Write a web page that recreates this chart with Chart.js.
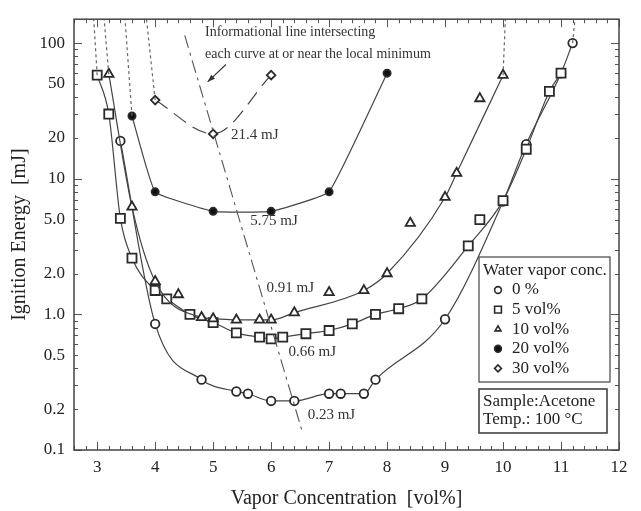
<!DOCTYPE html>
<html>
<head>
<meta charset="utf-8">
<script src="https://cdn.jsdelivr.net/npm/chart.js@4.4.1/dist/chart.umd.min.js"></script>
<style>
  html, body { margin: 0; padding: 0; background: #fff; }
  #wrap { width: 641px; height: 511px; }
</style>
</head>
<body>
<div id="wrap"><canvas id="chart" width="641" height="511"></canvas></div>
<script>
// axis ticks
const xTicks = [3, 4, 5, 6, 7, 8, 9, 10, 11, 12];
const yTicks = [0.1, 0.2, 0.5, 1, 2, 5, 10, 20, 50, 100];
const yTickLabels = ["0.1", "0.2", "0.5", "1.0", "2.0", "5.0", "10", "20", "50", "100"];

const seriesNames = ["0 %", "5 vol%", "10 vol%", "20 vol%", "30 vol%"];

// 0 % water vapor (circles)
const conc0 = [3.4, 4.0, 4.8, 5.4, 5.6, 6.0, 6.4, 7.0, 7.2, 7.6, 7.8, 9.0, 10.0, 10.4, 11.0, 11.2];
const energy0 = [19, 0.85, 0.33, 0.27, 0.26, 0.23, 0.23, 0.26, 0.26, 0.26, 0.33, 0.92, 6.8, 18, 60, 100];

// 5 vol% (squares)
const conc5 = [3.0, 3.2, 3.4, 3.6, 4.0, 4.2, 4.6, 5.0, 5.4, 5.8, 6.0, 6.2, 6.6, 7.0, 7.4, 7.8, 8.2, 8.6, 9.4, 10.0, 10.4, 10.8, 11.0];
const energy5 = [58, 30, 5.1, 2.6, 1.5, 1.3, 1.0, 0.87, 0.73, 0.68, 0.66, 0.68, 0.72, 0.76, 0.85, 1.0, 1.1, 1.3, 3.2, 6.9, 16.5, 44, 60];
const conc5Off = [9.6];
const energy5Off = [5.0];

// 10 vol% (triangles)
const conc10 = [3.2, 3.6, 4.0, 4.8, 5.0, 5.4, 5.8, 6.0, 6.4, 7.6, 8.0, 9.0, 9.2, 10.0];
const energy10 = [59, 6.2, 1.75, 0.95, 0.93, 0.91, 0.91, 0.91, 1.03, 1.5, 2.0, 7.3, 11, 58];
const conc10Off = [4.4, 7.0, 8.4, 9.6];
const energy10Off = [1.4, 1.45, 4.7, 39];

// 20 vol% (filled circles)
const conc20 = [3.6, 4.0, 5.0, 6.0, 7.0, 8.0];
const energy20 = [29, 8, 5.75, 5.75, 8, 60];

// 30 vol% (diamonds)
const conc30 = [4.0, 5.0, 6.0];
const energy30 = [38, 21.4, 58];

// dotted flammability limit extensions: [x at curve end, x at top], [y, y]
const limitX = [[3.0, 2.94], [3.2, 3.12], [3.6, 3.48], [4.0, 3.85], [10.0, 10.04], [11.2, 11.24]];
const limitY = [[58, 150], [59, 150], [29, 150], [38, 150], [58, 150], [100, 150]];

// informational line through the minima
const infoX = [4.51, 6.54];
const infoY = [114, 0.135];

const minLabels = ["21.4 mJ", "5.75 mJ", "0.91 mJ", "0.66 mJ", "0.23 mJ"];
const minLabelX = [5.31, 5.64, 5.92, 6.30, 6.63];
const minLabelY = [21, 4.9, 1.55, 0.53, 0.18];

const pts = (xs, ys) => xs.map((x, i) => ({ x: x, y: ys[i] }));

const INK = "#2a2a2a";
const LINE = "#444";
const SERIF = '"Liberation Serif", "DejaVu Serif", serif';

Chart.defaults.font.family = SERIF;
Chart.defaults.color = "#222";

const styles = [
  { pointStyle: "circle", radius: 4.3, fill: "#fff" },
  { pointStyle: "rect", radius: 6.4, fill: "#fff" },
  { pointStyle: "triangle", radius: 5.4, fill: "#fff" },
  { pointStyle: "circle", radius: 3.6, fill: "#111" },
  { pointStyle: "rectRot", radius: 4.3, fill: "#fff" },
];

function curve(data, st, extra) {
  return Object.assign({
    data: data,
    showLine: true,
    borderColor: LINE,
    borderWidth: 1.2,
    cubicInterpolationMode: "monotone",
    pointStyle: st.pointStyle,
    pointRadius: st.radius,
    pointBackgroundColor: st.fill,
    pointBorderColor: INK,
    pointBorderWidth: 1.8,
    pointHoverRadius: st.radius,
  }, extra || {});
}

function markersOnly(data, st) {
  return curve(data, st, { showLine: false });
}

const datasets = [];
limitX.forEach((xs, i) => {
  datasets.push({
    data: pts(xs, limitY[i]),
    showLine: true,
    borderColor: "#666",
    borderWidth: 1.2,
    borderDash: [3, 3],
    pointRadius: 0,
  });
});
datasets.push({
  data: pts(infoX, infoY),
  showLine: true,
  borderColor: "#555",
  borderWidth: 1.1,
  borderDash: [13, 5, 3, 5],
  pointRadius: 0,
});
datasets.push(curve(pts(conc30, energy30), styles[4], { borderDash: [15, 8] }));
datasets.push(curve(pts(conc20, energy20), styles[3], { cubicInterpolationMode: "default", tension: 0.1 }));
datasets.push(curve(pts(conc10, energy10), styles[2]));
datasets.push(markersOnly(pts(conc10Off, energy10Off), styles[2]));
datasets.push(curve(pts(conc5, energy5), styles[1]));
datasets.push(markersOnly(pts(conc5Off, energy5Off), styles[1]));
datasets.push(curve(pts(conc0, energy0), styles[0]));

// frame, inward ticks, annotations and legend
const decorPlugin = {
  id: "decor",
  afterDatasetsDraw(chart) {
    const ctx = chart.ctx;
    const a = chart.chartArea;
    const xs = chart.scales.x;
    const ys = chart.scales.y;
    ctx.save();

    // ticks on all four sides
    ctx.strokeStyle = "#555";
    ctx.lineWidth = 1;
    ctx.beginPath();
    for (let v = 2.6; v <= 12.001; v += 0.2) {
      const major = Math.abs(v - Math.round(v)) < 0.01;
      const len = major ? 8 : 4;
      const px = Math.round(xs.getPixelForValue(v)) + 0.5;
      ctx.moveTo(px, a.bottom); ctx.lineTo(px, a.bottom - len);
      ctx.moveTo(px, a.top); ctx.lineTo(px, a.top + len);
    }
    [0.1, 1, 10, 100].forEach((d) => {
      for (let m = 1; m <= 9; m++) {
        const v = m * d;
        if (v > 150) break;
        const len = m === 1 ? 8 : 4;
        const py = Math.round(ys.getPixelForValue(v)) + 0.5;
        ctx.moveTo(a.left, py); ctx.lineTo(a.left + len, py);
        ctx.moveTo(a.right, py); ctx.lineTo(a.right - len, py);
      }
    });
    ctx.stroke();

    // frame
    ctx.strokeStyle = "#444";
    ctx.lineWidth = 1.5;
    ctx.strokeRect(a.left, a.top, a.right - a.left, a.bottom - a.top);

    // annotation text
    ctx.fillStyle = "#333";
    ctx.font = "14px " + SERIF;
    ctx.textBaseline = "middle";
    ctx.textAlign = "left";
    ctx.fillText("Informational line intersecting", xs.getPixelForValue(4.86), ys.getPixelForValue(120));
    ctx.fillText("each curve at or near the local minimum", xs.getPixelForValue(4.86), ys.getPixelForValue(82));
    ctx.font = "15px " + SERIF;
    minLabels.forEach((t, i) => {
      ctx.fillText(t, xs.getPixelForValue(minLabelX[i]), ys.getPixelForValue(minLabelY[i]));
    });

    // arrow
    const x1 = xs.getPixelForValue(5.22), y1 = ys.getPixelForValue(69.5);
    const x2 = xs.getPixelForValue(4.905), y2 = ys.getPixelForValue(51.8);
    ctx.strokeStyle = "#333";
    ctx.lineWidth = 1.1;
    ctx.beginPath();
    ctx.moveTo(x1, y1);
    ctx.lineTo(x2, y2);
    ctx.stroke();
    const ang = Math.atan2(y2 - y1, x2 - x1);
    ctx.beginPath();
    ctx.moveTo(x2, y2);
    ctx.lineTo(x2 - 8 * Math.cos(ang - 0.35), y2 - 8 * Math.sin(ang - 0.35));
    ctx.lineTo(x2 - 8 * Math.cos(ang + 0.35), y2 - 8 * Math.sin(ang + 0.35));
    ctx.closePath();
    ctx.fillStyle = "#333";
    ctx.fill();

    // legend box
    const lx = a.right - 140, ly = 257, lw = 131, lh = 125;
    ctx.fillStyle = "#fff";
    ctx.fillRect(lx, ly, lw, lh);
    ctx.strokeStyle = "#444";
    ctx.lineWidth = 1.2;
    ctx.strokeRect(lx, ly, lw, lh);
    ctx.fillStyle = "#222";
    ctx.font = "17px " + SERIF;
    ctx.fillText("Water vapor conc.", lx + 4, ly + 14);
    seriesNames.forEach((name, i) => {
      const cy = ly + 33 + i * 19.6;
      const st = styles[i];
      ctx.fillStyle = st.fill;
      ctx.strokeStyle = INK;
      ctx.lineWidth = 1.6;
      Chart.helpers.drawPoint(ctx, {
        pointStyle: st.pointStyle,
        radius: st.pointStyle === "rect" ? 4.8 : 3.4,
        rotation: 0,
        borderWidth: 1.6,
      }, lx + 19, cy);
      ctx.fillStyle = "#222";
      ctx.fillText(name, lx + 33, cy);
    });

    // sample box
    const sx = lx, sy = 389, sw = 128, sh = 44;
    ctx.fillStyle = "#fff";
    ctx.fillRect(sx, sy, sw, sh);
    ctx.strokeStyle = "#444";
    ctx.strokeRect(sx, sy, sw, sh);
    ctx.fillStyle = "#222";
    ctx.fillText("Sample:Acetone", sx + 4, sy + 13);
    ctx.fillText("Temp.: 100 \u00b0C", sx + 4, sy + 31);

    ctx.restore();
  },
};

new Chart(document.getElementById("chart"), {
  type: "scatter",
  data: { datasets: datasets },
  options: {
    responsive: false,
    devicePixelRatio: 1,
    animation: false,
    events: [],
    layout: { padding: { left: 0, top: 9, right: 22, bottom: 0 } },
    plugins: {
      legend: { display: false },
      tooltip: { enabled: false },
    },
    scales: {
      x: {
        type: "linear",
        min: 2.6,
        max: 12,
        grid: { display: false, tickLength: 0 },
        border: { display: false },
        afterBuildTicks: (scale) => {
          scale.ticks = xTicks.map((v) => ({ value: v }));
        },
        afterFit: (scale) => { scale.height = 61; },
        ticks: {
          padding: 7,
          font: { size: 17 },
          color: "#222",
          callback: (v) => String(v),
        },
        title: {
          display: true,
          text: "Vapor Concentration  [vol%]",
          font: { size: 20 },
          color: "#222",
          padding: { top: 5, bottom: 0 },
        },
      },
      y: {
        type: "logarithmic",
        min: 0.1,
        max: 150,
        grid: { display: false, tickLength: 0 },
        border: { display: false },
        afterBuildTicks: (scale) => {
          scale.ticks = yTicks.map((v) => ({ value: v }));
        },
        afterFit: (scale) => { scale.width = 74; },
        ticks: {
          padding: 9,
          font: { size: 17 },
          color: "#222",
          callback: (v) => {
            const i = yTicks.findIndex((t) => Math.abs(t - v) < 1e-9);
            return i >= 0 ? yTickLabels[i] : "";
          },
        },
        title: {
          display: true,
          text: "Ignition Energy  [mJ]",
          font: { size: 20 },
          color: "#222",
          padding: { top: 8, bottom: 0 },
        },
      },
    },
  },
  plugins: [decorPlugin],
});
</script>
</body>
</html>
